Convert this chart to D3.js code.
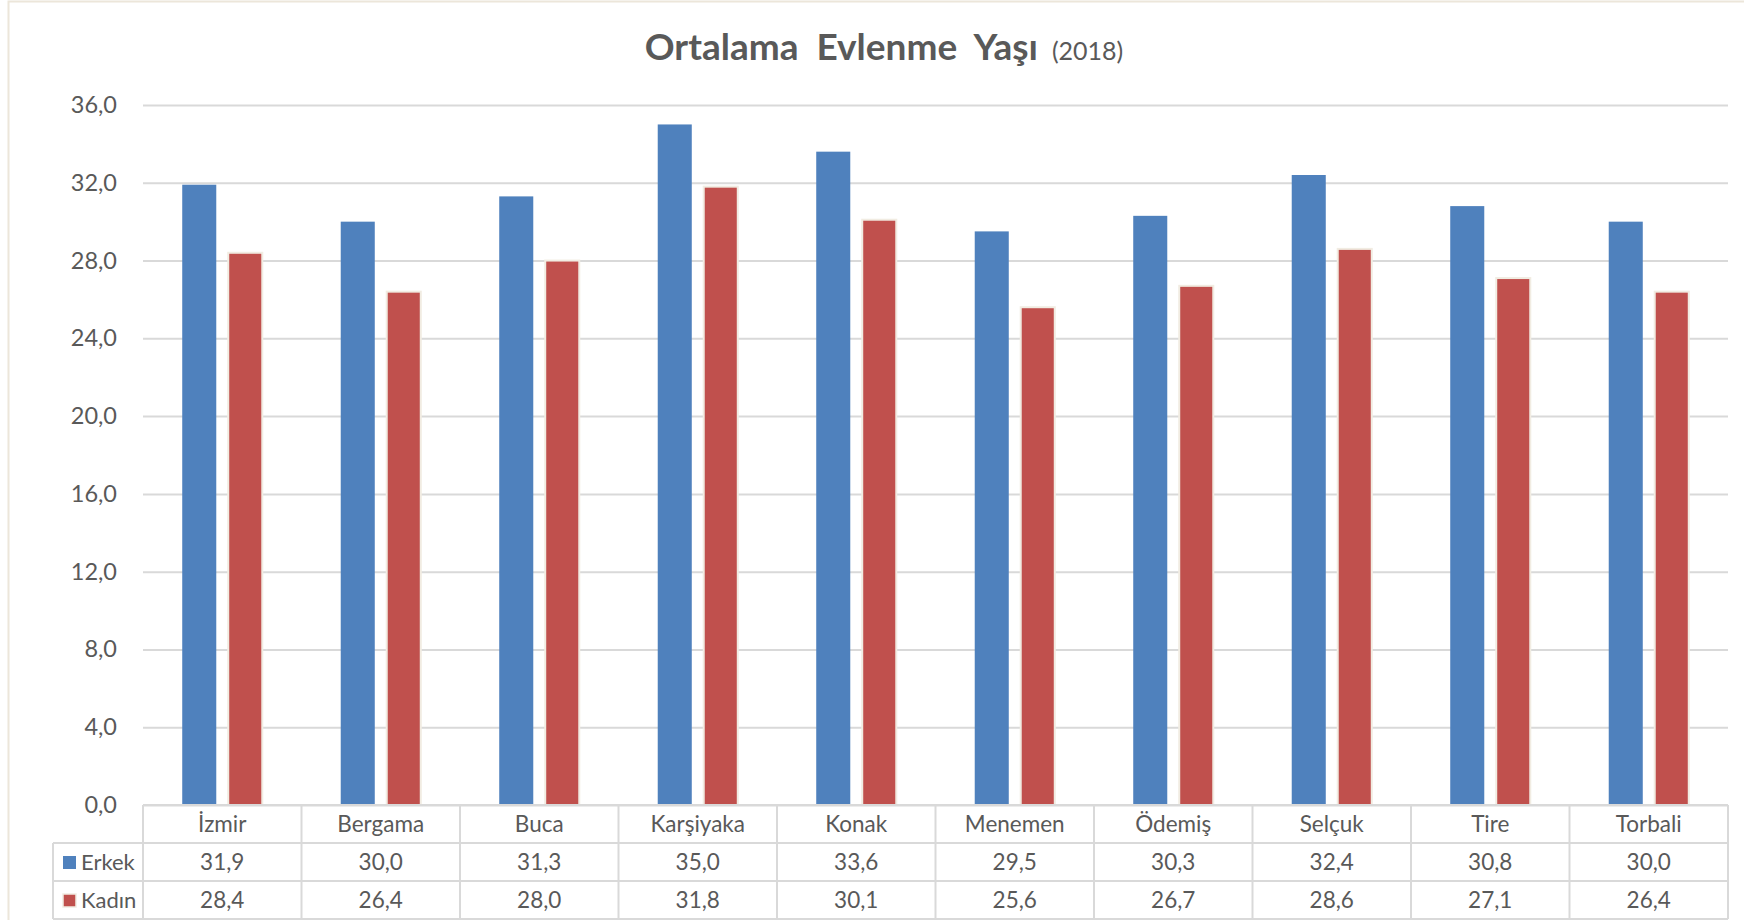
<!DOCTYPE html>
<html>
<head>
<meta charset="utf-8">
<script src="https://d3js.org/d3.v7.min.js"></script>
<style>
  body { margin: 0; background: #fff; }
  text { font-family: Lato, "Open Sans", sans-serif; fill: #595959; }
</style>
</head>
<body>
<div id="my_dataviz"></div>
<script>
    // data
    var districts = ["İzmir", "Bergama", "Buca", "Karşiyaka", "Konak", "Menemen", "Ödemiş", "Selçuk", "Tire", "Torbali"];
    var erkek = [31.9, 30.0, 31.3, 35.0, 33.6, 29.5, 30.3, 32.4, 30.8, 30.0];
    var kadin = [28.4, 26.4, 28.0, 31.8, 30.1, 25.6, 26.7, 28.6, 27.1, 26.4];
    var seriesNames = ["Erkek", "Kadın"];
    var yTicks = [0, 4, 8, 12, 16, 20, 24, 28, 32, 36];

    var W = 1744, H = 920;
    // plot area
    var margin = {top: 105, right: 16, bottom: 115, left: 143},
        width = W - margin.left - margin.right,
        height = H - margin.top - margin.bottom;

    var svg = d3.select("#my_dataviz")
      .append("svg")
        .attr("width", W)
        .attr("height", H);

    // thin frame of the chart area (left and top only show)
    svg.append("path")
       .attr("d", "M8.5," + H + "V1.5H" + W)
       .attr("fill", "none")
       .attr("stroke", "#ece6da")
       .attr("stroke-width", 2);

    var g = svg.append("g")
        .attr("transform", "translate(" + margin.left + "," + margin.top + ")");

    var fmt = function(v) { return d3.format(".1f")(v).replace(".", ","); };

    var x = d3.scaleBand()
              .domain(districts)
              .range([0, width])
              .paddingInner(0.495)
              .paddingOuter(0.2475);

    var xs = d3.scaleBand()
               .domain(seriesNames)
               .range([0, x.bandwidth()])
               .paddingInner(0.26);

    var y = d3.scaleLinear()
              .domain([0, 36])
              .range([height, 0]);

    var color = d3.scaleOrdinal()
                  .domain(seriesNames)
                  .range(["#4f81bd", "#c0504d"]);

    // gridlines + y labels
    g.append("g")
     .call(d3.axisLeft(y).tickValues(yTicks).tickSize(-width).tickFormat(fmt).tickPadding(26))
     .call(function(a) { a.select(".domain").remove(); })
     .call(function(a) {
        a.selectAll(".tick line").attr("stroke", "#d9d9d9").attr("stroke-width", 2);
        a.selectAll(".tick text").style("font-size", "23.5px").attr("fill", "#595959")
         .attr("font-family", "Lato, sans-serif").attr("dy", "0.32em");
     });

    // bars
    var rows = districts.map(function(d, i) {
      return {district: d, values: [
        {key: "Erkek", value: erkek[i]},
        {key: "Kadın", value: kadin[i]}
      ]};
    });

    g.append("g")
     .selectAll("g")
     .data(rows)
     .enter()
     .append("g")
       .attr("transform", function(d) { return "translate(" + x(d.district) + ",0)"; })
     .selectAll("rect")
     .data(function(d) { return d.values; })
     .enter()
     .append("rect")
       .attr("x", function(d) { return xs(d.key); })
       .attr("y", function(d) { return y(d.value); })
       .attr("width", xs.bandwidth())
       .attr("height", function(d) { return height - y(d.value); })
       .attr("fill", function(d) { return color(d.key); })
       .attr("stroke", function(d) { return d.key === "Kadın" ? "#f1ece2" : "none"; })
       .attr("stroke-width", 2);

    // data table under the plot
    var rowH = 38,
        legendLeft = 53 - margin.left;
    var tbl = g.append("g").attr("transform", "translate(0," + height + ")");
    var lineCol = "#d9d9d9";

    // horizontal rules
    tbl.append("line").attr("x1", 0).attr("x2", width).attr("y1", 0).attr("y2", 0);
    [1, 2, 3].forEach(function(r) {
      tbl.append("line").attr("x1", legendLeft).attr("x2", width).attr("y1", r * rowH).attr("y2", r * rowH);
    });
    // vertical rules
    tbl.append("line").attr("x1", legendLeft).attr("x2", legendLeft).attr("y1", rowH).attr("y2", 3 * rowH);
    districts.forEach(function(d, i) {
      var xx = x.step() * i;
      tbl.append("line").attr("x1", xx).attr("x2", xx).attr("y1", 0).attr("y2", 3 * rowH);
    });
    tbl.append("line").attr("x1", width).attr("x2", width).attr("y1", 0).attr("y2", 3 * rowH);
    tbl.selectAll("line").attr("stroke", lineCol).attr("stroke-width", 2);

    // category names
    tbl.selectAll(".cat")
       .data(districts)
       .enter()
       .append("text")
         .attr("class", "cat")
         .attr("x", function(d) { return x(d) + x.bandwidth() / 2; })
         .attr("y", rowH / 2 + 8)
         .attr("text-anchor", "middle")
         .style("font-size", "22.5px")
         .text(function(d) { return d; });

    // value rows
    [erkek, kadin].forEach(function(vals, r) {
      tbl.selectAll(".v" + r)
         .data(vals)
         .enter()
         .append("text")
           .attr("class", "v" + r)
           .attr("x", function(d, i) { return x(districts[i]) + x.bandwidth() / 2; })
           .attr("y", (r + 1) * rowH + rowH / 2 + 8)
           .attr("text-anchor", "middle")
           .style("font-size", "22.5px")
           .text(fmt);

      // legend key
      tbl.append("rect")
         .attr("x", legendLeft + 10)
         .attr("y", (r + 1) * rowH + rowH / 2 - 6)
         .attr("width", 13)
         .attr("height", 13)
         .attr("fill", color(seriesNames[r]))
         .attr("stroke", r === 1 ? "#f1ece2" : "none")
         .attr("stroke-width", 1.5);
      tbl.append("text")
         .attr("x", legendLeft + 28)
         .attr("y", (r + 1) * rowH + rowH / 2 + 8)
         .style("font-size", "22px")
         .text(seriesNames[r]);
    });

    // title
    var title = svg.append("text")
       .attr("x", 884)
       .attr("y", 60)
       .attr("text-anchor", "middle");
    title.append("tspan")
       .style("font-size", "37px")
       .style("font-weight", "bold")
       .attr("xml:space", "preserve")
       .text("Ortalama  Evlenme  Yaşı");
    title.append("tspan")
       .style("font-size", "25px")
       .attr("dx", 14)
       .text("(2018)");
</script>
</body>
</html>
